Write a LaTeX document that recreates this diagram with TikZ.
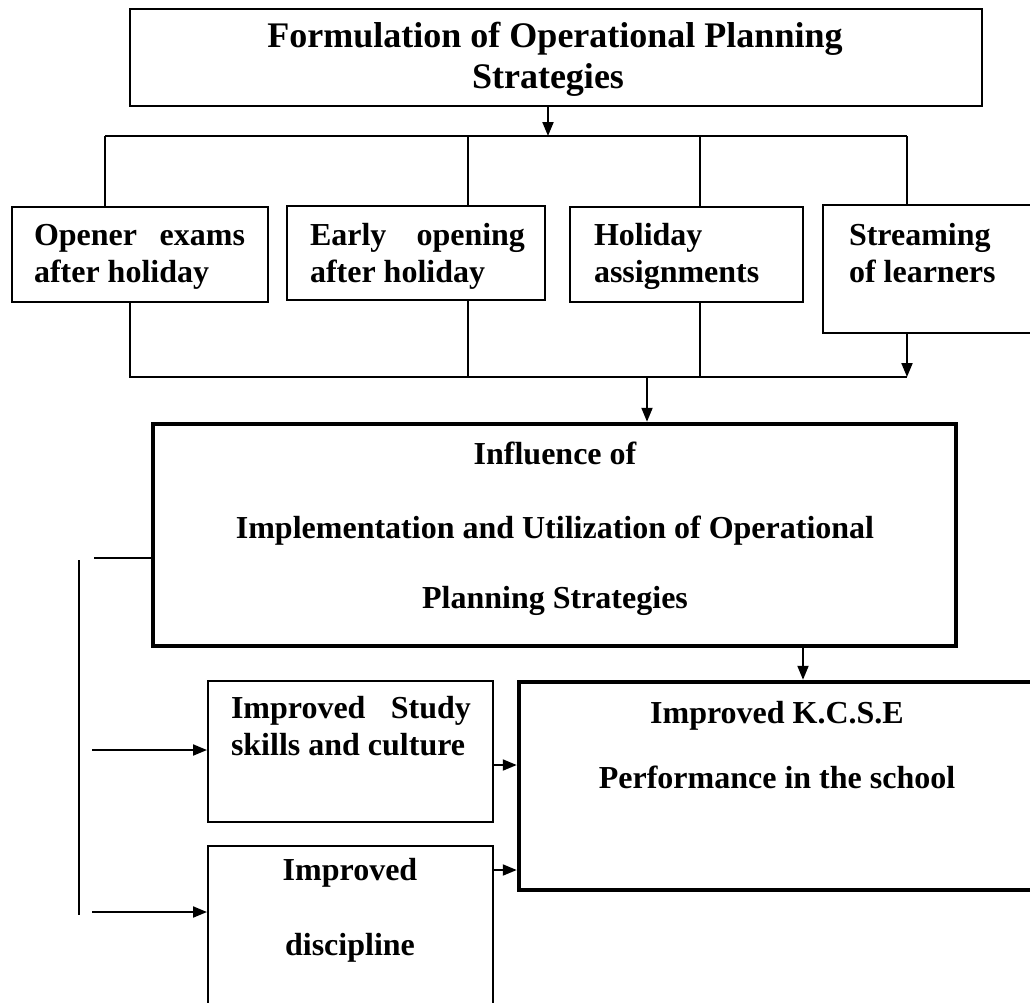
\documentclass[tikz,border=0pt]{standalone}
\usepackage{fontspec}
\setmainfont{Liberation Serif}
\usetikzlibrary{arrows.meta}
\begin{document}
\begin{tikzpicture}[x=1pt,y=-1pt,
  line width=2pt,
  arr/.style={-{Triangle[length=14pt,width=11pt]}},
  box/.style={draw, rectangle, inner sep=0pt, line width=2pt},
  thickbox/.style={draw, rectangle, inner sep=0pt, line width=4.5pt},
  txt/.style={inner sep=0pt, font=\fontsize{32}{36}\selectfont\bfseries},
  toptxt/.style={inner sep=0pt, font=\fontsize{36}{40}\selectfont\bfseries}]
\useasboundingbox (0,0) rectangle (1030,1002);
\clip (0,0) rectangle (1030,1002);

% boxes
\node[box, minimum width=852pt, minimum height=97pt] (top) at (556,57.5) {};
\node[box, minimum width=256pt, minimum height=95pt] (b1) at (140,254.5) {};
\node[box, minimum width=258pt, minimum height=94pt] (b2) at (416,253) {};
\node[box, minimum width=233pt, minimum height=95pt] (b3) at (686.5,254.5) {};
\node[box, minimum width=213pt, minimum height=128pt] (b4) at (929.5,269) {};
\node[thickbox, minimum width=803pt, minimum height=222pt] (infl) at (554.5,535) {};
\node[box, minimum width=285pt, minimum height=141pt] (study) at (350.5,751.5) {};
\node[box, minimum width=285pt, minimum height=184pt] (disc) at (350.5,938) {};
\node[thickbox, minimum width=517pt, minimum height=208pt] (kcse) at (777.5,786) {};

% texts
\node[toptxt, anchor=base] (t1) at (555,47) {Formulation of Operational Planning};
\node[toptxt, anchor=base] (t2) at (548,88) {Strategies};

\node[txt, anchor=base west] (b1a) at (33,245) {\makebox[211pt][s]{Opener exams}};
\node[txt, anchor=base west] (b1b) at (33,282) {after holiday};
\node[txt, anchor=base west] (b2a) at (309,245) {\makebox[215pt][s]{Early opening}};
\node[txt, anchor=base west] (b2b) at (309,282) {after holiday};
\node[txt, anchor=base west] (b3a) at (593,245) {Holiday};
\node[txt, anchor=base west] (b3b) at (593,282) {assignments};
\node[txt, anchor=base west] (b4a) at (848,245) {Streaming};
\node[txt, anchor=base west] (b4b) at (848,282) {of learners};

\node[txt, anchor=base] (i1) at (555,464) {Influence of};
\node[txt, anchor=base] (i2) at (555,538) {Implementation and Utilization of Operational};
\node[txt, anchor=base] (i3) at (555,608) {Planning Strategies};

\node[txt, anchor=base west] (s1) at (230,718) {\makebox[240pt][s]{Improved Study}};
\node[txt, anchor=base west] (s2) at (230,755) {skills and culture};

\node[txt, anchor=base] (d1) at (350,880) {Improved};
\node[txt, anchor=base] (d2) at (350,955) {discipline};

\node[txt, anchor=base] (k1) at (777,723) {Improved K.C.S.E};
\node[txt, anchor=base] (k2) at (777,788) {Performance in the school};

% top distribution
\coordinate (sp) at (548,136);
\coordinate (h1) at (105,136);
\coordinate (h2) at (468,136);
\coordinate (h3) at (700,136);
\coordinate (h4) at (907,136);
\draw[arr] (top.south -| sp) -- (sp);
\draw (h1) -- (h4);
\draw (h1) -- (h1 |- b1.north);
\draw (h2) -- (h2 |- b2.north);
\draw (h3) -- (h3 |- b3.north);
\draw (h4) -- (h4 |- b4.north);

% collection
\coordinate (g1) at (130,377);
\coordinate (g2) at (468,377);
\coordinate (g3) at (700,377);
\coordinate (g4) at (907,377);
\coordinate (gm) at (647,377);
\draw (g1 |- b1.south) -- (g1) -- (g4);
\draw (g2 |- b2.south) -- (g2);
\draw (g3 |- b3.south) -- (g3);
\draw[arr] (g4 |- b4.south) -- (g4);
\draw[arr] (gm) -- (gm |- infl.north);

% left feedback
\coordinate (ls) at (94,558);
\coordinate (vt) at (79,560);
\coordinate (vb) at (79,915);
\coordinate (a1) at (92,750);
\coordinate (a2) at (92,912);
\draw (infl.west |- ls) -- (ls);
\draw (vt) -- (vb);
\draw[arr] (a1) -- (a1 -| study.west);
\draw[arr] (a2) -- (a2 -| disc.west);

% to KCSE
\coordinate (kd) at (803,646);
\draw[arr] (infl.south -| kd) -- (kd |- kcse.north);
\coordinate (c1) at (493,765);
\coordinate (c2) at (493,870);
\draw[arr] (study.east |- c1) -- (c1 -| kcse.west);
\draw[arr] (disc.east |- c2) -- (c2 -| kcse.west);
\end{tikzpicture}
\end{document}
